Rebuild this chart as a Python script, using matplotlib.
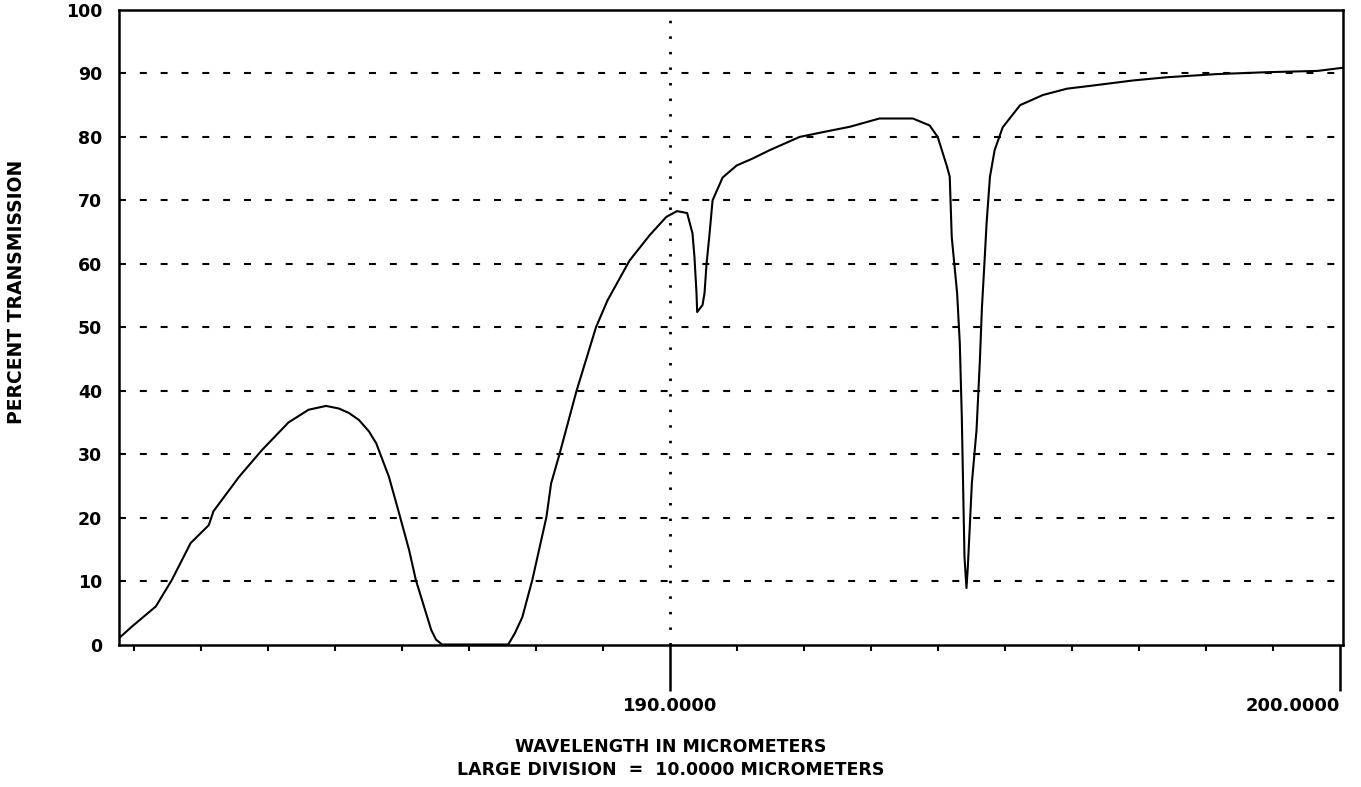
import matplotlib.pyplot as plt

plt.rcParams['font.family'] = 'DejaVu Sans'
plt.rcParams['font.weight'] = 'bold'
plt.rcParams['lines.scale_dashes'] = False

# Curva de transmissão
comprimento = [181.77, 181.96, 182.32, 182.56, 182.84, 183.11, 183.18, 183.56, 183.90,
               184.30, 184.60, 184.86, 185.05, 185.20, 185.35, 185.50, 185.61, 185.80,
               185.95, 186.10, 186.20, 186.43, 186.50, 186.59, 187.58, 187.68, 187.79,
               187.94, 188.15, 188.22, 188.34, 188.60, 188.89, 189.06, 189.39, 189.69,
               189.94, 190.10, 190.25, 190.33, 190.36, 190.39, 190.40, 190.48, 190.51,
               190.54, 190.58, 190.63, 190.78, 190.99, 191.23, 191.48, 191.93, 192.30,
               192.68, 193.12, 193.62, 193.87, 193.99, 194.13, 194.17, 194.20, 194.28,
               194.32, 194.35, 194.37, 194.39, 194.42, 194.44, 194.50, 194.57, 194.62,
               194.65, 194.69, 194.72, 194.77, 194.84, 194.96, 195.22, 195.56, 195.92,
               196.31, 196.91, 197.41, 198.16, 198.91, 199.66, 200.04]
transmissao = [1.0, 2.8, 6.0, 10.2, 16.0, 18.8, 21.0, 26.4, 30.6,
               35.0, 37.0, 37.6, 37.2, 36.5, 35.4, 33.6, 31.7, 26.4,
               20.7, 14.9, 10.2, 2.3, 0.8, 0.0, 0.0, 1.8, 4.3,
               10.2, 20.1, 25.4, 29.8, 40.0, 50.0, 54.2, 60.5, 64.5,
               67.4, 68.3, 68.0, 64.8, 61.0, 55.4, 52.4, 53.5, 55.4,
               60.0, 64.2, 70.0, 73.6, 75.5, 76.6, 77.9, 80.0, 80.8,
               81.6, 82.9, 82.9, 81.8, 80.0, 75.3, 73.7, 64.2, 55.4,
               47.5, 35.9, 24.8, 13.8, 8.9, 12.2, 25.4, 33.8, 44.8,
               53.0, 60.5, 66.4, 73.7, 77.9, 81.5, 85.0, 86.6, 87.6,
               88.1, 88.9, 89.4, 89.9, 90.2, 90.4, 90.9]

marcas_maiores = [190, 200]
rotulos_maiores = ['190.0000', '200.0000']
marcas_menores = list(range(182, 200))
marcas_y = list(range(0, 101, 10))

fig = plt.figure(figsize=(13.61, 7.87), dpi=100)
ax = fig.add_axes([119 / 1361, 1 - 644.5 / 787, (1343 - 119) / 1361, (644.5 - 10) / 787])

# grade
for v in range(10, 100, 10):
    ax.axhline(v, color='black', linewidth=1.5, linestyle=(0, (5, 10)), zorder=1)
ax.axvline(190, color='black', linewidth=2, linestyle=(0, (1.8, 9.4)), zorder=1)

ax.plot(comprimento, transmissao, color='black', linewidth=1.5, zorder=3)

ax.set_xlim(181.77, 200.04)
ax.set_ylim(0, 100)

ax.set_xticks(marcas_maiores)
ax.set_xticklabels(rotulos_maiores)
ax.set_xticks(marcas_menores, minor=True)
ax.tick_params(axis='x', which='major', direction='out', length=33, width=1.8, pad=5,
               labelsize=13)
ax.tick_params(axis='x', which='minor', direction='out', length=4, width=1.5)
ax.get_xticklabels()[1].set_horizontalalignment('right')

ax.set_yticks(marcas_y)
ax.tick_params(axis='y', length=0, pad=12, labelsize=12.5)

for s in ax.spines.values():
    s.set_linewidth(1.8)

fig.text(17 / 1361, 1 - 292 / 787, 'PERCENT TRANSMISSION', rotation=90,
         ha='center', va='center', fontsize=13.5, fontweight='bold')
fig.text(671 / 1361, 1 - 747 / 787, 'WAVELENGTH IN MICROMETERS',
         ha='center', va='center', fontsize=12.5, fontweight='bold')
fig.text(671 / 1361, 1 - 770 / 787, 'LARGE DIVISION  =  10.0000 MICROMETERS',
         ha='center', va='center', fontsize=12.5, fontweight='bold')

fig.savefig('out.png', dpi=100)
